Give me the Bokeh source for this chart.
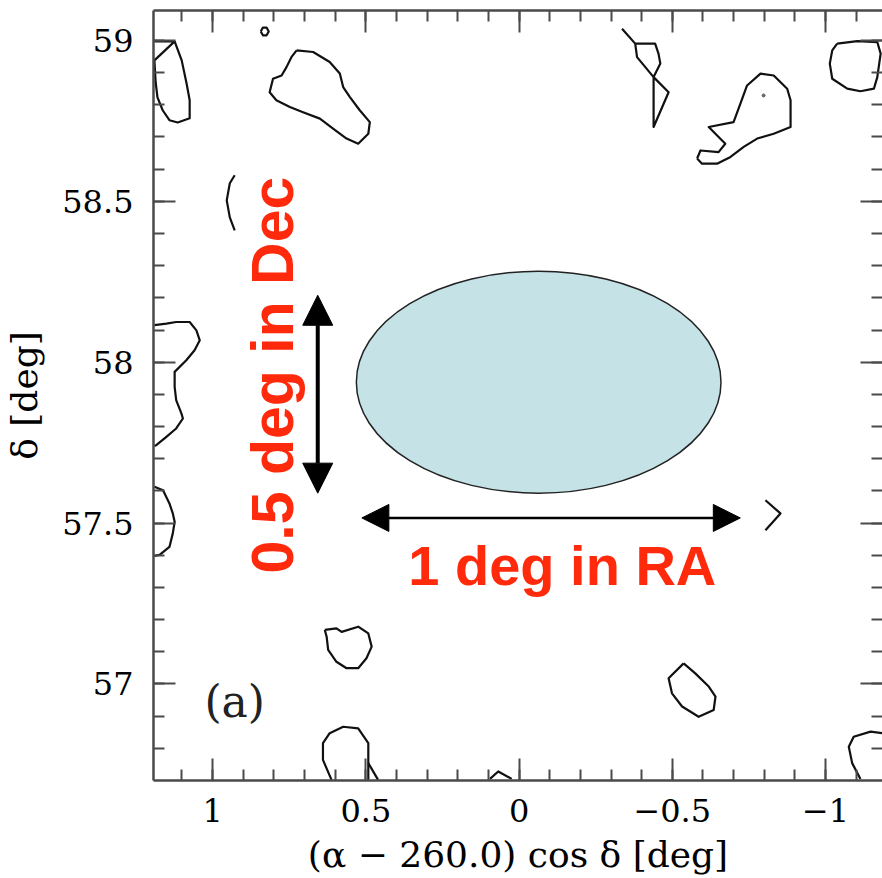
import numpy as np
from bokeh.plotting import figure
from bokeh.models import (Range1d, FixedTicker, LinearAxis, Arrow, NormalHead,
                          CustomJSTickFormatter)
from bokeh.core.properties import value
from bokeh.embed import file_html
from bokeh.resources import INLINE

# ---------------- data ----------------
x_tick_vals = [1, 0.5, 0, -0.5, -1]
x_tick_labels = ["1", "0.5", "0", "\u22120.5", "\u22121"]
y_tick_vals = [57, 57.5, 58, 58.5, 59]
y_tick_labels = ["57", "57.5", "58", "58.5", "59"]
x_minor_vals = [round(v, 1) for v in np.arange(-1.1, 1.15, 0.1)]
y_minor_vals = [round(v, 1) for v in np.arange(56.8, 59.05, 0.1)]

x_lim = [1.193, -1.186]
y_lim = [56.70, 59.093]

# contour lines (data coordinates)
c1_x = [1.124, 1.101, 1.085, 1.075, 1.075, 1.114, 1.141, 1.163, 1.180, 1.186, 1.190, 1.124, 1.190]
c1_y = [58.997, 58.938, 58.866, 58.814, 58.758, 58.745, 58.752, 58.783, 58.823, 58.870, 58.938, 58.997, 58.997]
c2_x = [0.843, 0.836, 0.824, 0.817, 0.824, 0.836, 0.843]
c2_y = [59.028, 59.040, 59.040, 59.028, 59.016, 59.016, 59.028]
c3_x = [0.726, 0.672, 0.618, 0.585, 0.574, 0.552, 0.520, 0.487, 0.492, 0.525, 0.563, 0.607, 0.650,
        0.705, 0.748, 0.792, 0.814, 0.803, 0.775, 0.759, 0.743, 0.726]
c3_y = [58.969, 58.964, 58.933, 58.897, 58.855, 58.824, 58.783, 58.746, 58.710, 58.679, 58.695, 58.726, 58.757,
        58.777, 58.793, 58.814, 58.839, 58.881, 58.891, 58.917, 58.948, 58.969]
c4_x = [0.928, 0.944, 0.954, 0.944, 0.928]
c4_y = [58.581, 58.556, 58.503, 58.450, 58.410]
c5_x = [1.190, 1.151, 1.119, 1.075, 1.053, 1.042, 1.059, 1.086, 1.124, 1.124, 1.119, 1.102, 1.097, 1.119, 1.151, 1.184, 1.190]
c5_y = [58.115, 58.120, 58.125, 58.125, 58.099, 58.068, 58.037, 58.006, 57.970, 57.923, 57.882, 57.841, 57.825, 57.794, 57.768, 57.742, 57.740]
c6_x = [1.190, 1.162, 1.141, 1.130, 1.124, 1.130, 1.141, 1.173, 1.190]
c6_y = [57.613, 57.602, 57.561, 57.530, 57.504, 57.468, 57.426, 57.401, 57.398]
c7_x = [-0.336, -0.379, -0.385, -0.439, -0.488, -0.439, -0.439, -0.461, -0.455, -0.444, -0.379]
c7_y = [59.036, 58.990, 58.948, 58.886, 58.839, 58.731, 58.886, 58.928, 58.959, 58.990, 58.990]
c8_x = [-0.581, -0.592, -0.651, -0.673, -0.619, -0.700, -0.722, -0.744, -0.788, -0.831, -0.875, -0.886,
        -0.886, -0.831, -0.777, -0.733, -0.690, -0.646, -0.597, -0.581]
c8_y = [58.633, 58.658, 58.653, 58.679, 58.731, 58.746, 58.803, 58.860, 58.897, 58.891, 58.850, 58.814,
        58.731, 58.710, 58.695, 58.669, 58.638, 58.617, 58.617, 58.633]
c9_x = [-1.038, -1.104, -1.169, -1.180, -1.169, -1.158, -1.114, -1.071, -1.022, -1.014, -1.022, -1.038]
c9_y = [58.990, 58.998, 58.995, 58.959, 58.886, 58.850, 58.842, 58.850, 58.881, 58.928, 58.969, 58.990]
c10_x = [-0.804, -0.853, -0.804]
c10_y = [57.571, 57.530, 57.478]
c11_x = [0.634, 0.596, 0.579, 0.525, 0.492, 0.481, 0.498, 0.525, 0.563, 0.596, 0.623, 0.628, 0.634]
c11_y = [57.168, 57.173, 57.162, 57.178, 57.157, 57.116, 57.080, 57.049, 57.049, 57.069, 57.106, 57.147, 57.168]
c12_x = [0.612, 0.640, 0.640, 0.618, 0.574, 0.525, 0.492, 0.492, 0.492]
c12_y = [56.702, 56.764, 56.816, 56.847, 56.867, 56.862, 56.816, 56.754, 56.702]
c13_x = [0.492, 0.460]
c13_y = [56.754, 56.702]
c14_x = [0.095, 0.068, 0.024]
c14_y = [56.705, 56.728, 56.705]
c15_x = [-0.537, -0.488, -0.499, -0.532, -0.586, -0.635, -0.641, -0.619, -0.575, -0.537]
c15_y = [57.064, 57.018, 56.971, 56.930, 56.898, 56.919, 56.961, 56.992, 57.033, 57.064]
c16_x = [-1.114, -1.087, -1.076, -1.092, -1.147, -1.186]
c16_y = [56.705, 56.754, 56.805, 56.836, 56.852, 56.847]

whale_dot_x = [-0.798]
whale_dot_y = [58.829]

# beam ellipse
beam_x = [-0.064]
beam_y = [57.938]
beam_w = [1.19]
beam_h = [0.69]

# arrows
ra_arrow_x = [0.513, -0.722]
ra_arrow_y = [57.516, 57.516]
dec_arrow_x = [0.657, 0.657]
dec_arrow_y = [57.593, 58.208]

# annotations
ra_text = "1 deg in RA"
ra_text_pos = [-0.141, 57.369]
dec_text = "0.5 deg in Dec"
dec_text_pos = [0.804, 57.960]
panel_text = "(a)"
panel_text_pos = [0.928, 56.947]

x_label = "(\u03b1 \u2212 260.0) cos \u03b4 [deg]"
y_label = "\u03b4 [deg]"

# ---------------- figure ----------------
AX = "#4a4a4a"
SERIF = "DejaVu Serif"
RED = "#ff2a0c"

p = figure(width=882, height=878,
           x_range=Range1d(x_lim[0], x_lim[1]), y_range=Range1d(y_lim[0], y_lim[1]),
           output_backend="svg", toolbar_location=None,
           min_border_left=153, min_border_right=0, min_border_top=10, min_border_bottom=98)
p.xgrid.visible = False
p.ygrid.visible = False
p.outline_line_color = None
p.background_fill_color = "white"
p.border_fill_color = "white"


def style_axis(ax, ticks, minor, labels=None):
    ax.ticker = FixedTicker(ticks=ticks, minor_ticks=minor)
    ax.major_tick_in = 22
    ax.major_tick_out = 0
    ax.minor_tick_in = 11
    ax.minor_tick_out = 0
    ax.major_tick_line_color = AX
    ax.minor_tick_line_color = AX
    ax.major_tick_line_width = 2
    ax.minor_tick_line_width = 2
    ax.axis_line_color = AX
    ax.axis_line_width = 2.5
    if labels is None:
        ax.formatter = CustomJSTickFormatter(code="return ''")
        ax.major_label_text_font_size = "0px"
        ax.major_label_standoff = 0
    else:
        ax.major_label_overrides = {v: l for v, l in zip(ticks, labels)}
        ax.major_label_text_font = SERIF
        ax.major_label_text_font_size = "32px"
        ax.major_label_text_color = "black"


xb = p.xaxis[0]
style_axis(xb, x_tick_vals, x_minor_vals, x_tick_labels)
xb.major_label_standoff = 18
xb.axis_label = x_label
xb.axis_label_text_font = SERIF
xb.axis_label_text_font_size = "36px"
xb.axis_label_text_font_style = "normal"
xb.axis_label_text_color = "black"
xb.axis_label_standoff = 9

yl = p.yaxis[0]
style_axis(yl, y_tick_vals, y_minor_vals, y_tick_labels)
yl.major_label_standoff = 20
yl.axis_label = y_label
yl.axis_label_text_font = SERIF
yl.axis_label_text_font_size = "36px"
yl.axis_label_text_font_style = "normal"
yl.axis_label_text_color = "black"
yl.axis_label_standoff = 14

xt = LinearAxis()
style_axis(xt, x_tick_vals, x_minor_vals)
p.add_layout(xt, "above")

yr = LinearAxis()
style_axis(yr, y_tick_vals, y_minor_vals)
yr.axis_line_color = None
p.add_layout(yr, "right")

# contours
cont_xs = [c1_x, c2_x, c3_x, c4_x, c5_x, c6_x, c7_x, c8_x, c9_x, c10_x, c11_x, c12_x, c13_x, c14_x, c15_x, c16_x]
cont_ys = [c1_y, c2_y, c3_y, c4_y, c5_y, c6_y, c7_y, c8_y, c9_y, c10_y, c11_y, c12_y, c13_y, c14_y, c15_y, c16_y]
p.multi_line(xs=cont_xs, ys=cont_ys, line_color="#111111", line_width=2.2, line_join="round")
p.scatter(x=whale_dot_x, y=whale_dot_y, size=3, color="#666666")

# beam ellipse
p.ellipse(x=beam_x, y=beam_y, width=beam_w, height=beam_h,
          fill_color="#c5e3e7", line_color="#222222", line_width=1.5)

# arrows
p.add_layout(Arrow(x_start=ra_arrow_x[0], y_start=ra_arrow_y[0], x_end=ra_arrow_x[1], y_end=ra_arrow_y[1],
                   line_width=2.5, line_color="black",
                   start=NormalHead(size=27, fill_color="black", line_color="black"),
                   end=NormalHead(size=27, fill_color="black", line_color="black")))
p.add_layout(Arrow(x_start=dec_arrow_x[0], y_start=dec_arrow_y[0], x_end=dec_arrow_x[1], y_end=dec_arrow_y[1],
                   line_width=4, line_color="black",
                   start=NormalHead(size=30, fill_color="black", line_color="black"),
                   end=NormalHead(size=30, fill_color="black", line_color="black")))

# red texts
p.text(x=[ra_text_pos[0]], y=[ra_text_pos[1]], text=[ra_text], text_color=RED,
       text_font=value("Liberation Sans"), text_font_style="bold", text_font_size="56px",
       text_align="center", text_baseline="alphabetic")
p.text(x=[dec_text_pos[0]], y=[dec_text_pos[1]], text=[dec_text], text_color=RED,
       text_font=value("Liberation Sans"), text_font_style="bold", text_font_size="59px",
       text_align="center", text_baseline="alphabetic", angle=np.pi / 2)
p.text(x=[panel_text_pos[0]], y=[panel_text_pos[1]], text=[panel_text], text_color="#222222",
       text_font=value(SERIF), text_font_size="44px",
       text_align="center", text_baseline="middle")

open("out.html", "w").write(file_html(p, INLINE))
